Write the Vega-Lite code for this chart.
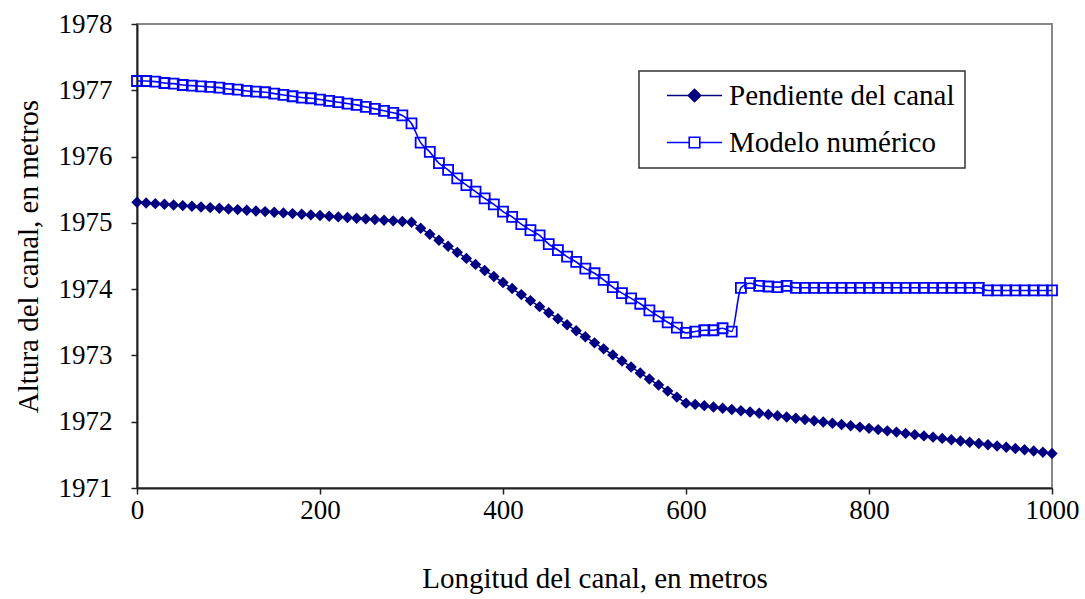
{
  "$schema": "https://vega.github.io/schema/vega-lite/v6.json",
  "width": 915,
  "height": 464,
  "autosize": {"type": "none"},
  "padding": {"left": 137, "top": 24, "right": 33, "bottom": 111},
  "background": "white",
  "config": {
    "font": "Liberation Serif",
    "view": {"stroke": "#888888", "strokeWidth": 2},
    "axis": {
      "grid": false,
      "domainColor": "#222222",
      "domainWidth": 2,
      "tickColor": "#222222",
      "tickWidth": 1.5,
      "tickSize": 6,
      "labelFont": "Liberation Serif",
      "labelFontSize": 27,
      "labelColor": "#000000",
      "titleFont": "Liberation Serif",
      "titleFontSize": 29,
      "titleFontWeight": "normal",
      "titleColor": "#000000"
    }
  },
  "datasets": {
    "pend": [
      {"x": 0, "y": 1975.31}, {"x": 10, "y": 1975.30}, {"x": 20, "y": 1975.29}, {"x": 30, "y": 1975.28}, {"x": 40, "y": 1975.27},
      {"x": 50, "y": 1975.26}, {"x": 60, "y": 1975.25}, {"x": 70, "y": 1975.24}, {"x": 80, "y": 1975.23}, {"x": 90, "y": 1975.22},
      {"x": 100, "y": 1975.21}, {"x": 110, "y": 1975.20}, {"x": 120, "y": 1975.19}, {"x": 130, "y": 1975.18}, {"x": 140, "y": 1975.17},
      {"x": 150, "y": 1975.16}, {"x": 160, "y": 1975.15}, {"x": 170, "y": 1975.14}, {"x": 180, "y": 1975.13}, {"x": 190, "y": 1975.12},
      {"x": 200, "y": 1975.11}, {"x": 210, "y": 1975.10}, {"x": 220, "y": 1975.09}, {"x": 230, "y": 1975.08}, {"x": 240, "y": 1975.07},
      {"x": 250, "y": 1975.06}, {"x": 260, "y": 1975.05}, {"x": 270, "y": 1975.04}, {"x": 280, "y": 1975.03}, {"x": 290, "y": 1975.02},
      {"x": 300, "y": 1975.01}, {"x": 310, "y": 1974.919}, {"x": 320, "y": 1974.828}, {"x": 330, "y": 1974.737}, {"x": 340, "y": 1974.646},
      {"x": 350, "y": 1974.555}, {"x": 360, "y": 1974.464}, {"x": 370, "y": 1974.373}, {"x": 380, "y": 1974.282}, {"x": 390, "y": 1974.191},
      {"x": 400, "y": 1974.100}, {"x": 410, "y": 1974.009}, {"x": 420, "y": 1973.918}, {"x": 430, "y": 1973.827}, {"x": 440, "y": 1973.736},
      {"x": 450, "y": 1973.645}, {"x": 460, "y": 1973.554}, {"x": 470, "y": 1973.463}, {"x": 480, "y": 1973.372}, {"x": 490, "y": 1973.281},
      {"x": 500, "y": 1973.190}, {"x": 510, "y": 1973.099}, {"x": 520, "y": 1973.008}, {"x": 530, "y": 1972.917}, {"x": 540, "y": 1972.826},
      {"x": 550, "y": 1972.735}, {"x": 560, "y": 1972.644}, {"x": 570, "y": 1972.553}, {"x": 580, "y": 1972.462}, {"x": 590, "y": 1972.371},
      {"x": 600, "y": 1972.280}, {"x": 610, "y": 1972.261}, {"x": 620, "y": 1972.242}, {"x": 630, "y": 1972.223}, {"x": 640, "y": 1972.204},
      {"x": 650, "y": 1972.185}, {"x": 660, "y": 1972.166}, {"x": 670, "y": 1972.147}, {"x": 680, "y": 1972.128}, {"x": 690, "y": 1972.109},
      {"x": 700, "y": 1972.090}, {"x": 710, "y": 1972.071}, {"x": 720, "y": 1972.052}, {"x": 730, "y": 1972.033}, {"x": 740, "y": 1972.014},
      {"x": 750, "y": 1971.995}, {"x": 760, "y": 1971.976}, {"x": 770, "y": 1971.957}, {"x": 780, "y": 1971.938}, {"x": 790, "y": 1971.919},
      {"x": 800, "y": 1971.900}, {"x": 810, "y": 1971.881}, {"x": 820, "y": 1971.862}, {"x": 830, "y": 1971.843}, {"x": 840, "y": 1971.824},
      {"x": 850, "y": 1971.805}, {"x": 860, "y": 1971.786}, {"x": 870, "y": 1971.767}, {"x": 880, "y": 1971.748}, {"x": 890, "y": 1971.729},
      {"x": 900, "y": 1971.710}, {"x": 910, "y": 1971.691}, {"x": 920, "y": 1971.672}, {"x": 930, "y": 1971.653}, {"x": 940, "y": 1971.634},
      {"x": 950, "y": 1971.615}, {"x": 960, "y": 1971.596}, {"x": 970, "y": 1971.577}, {"x": 980, "y": 1971.558}, {"x": 990, "y": 1971.539},
      {"x": 1000, "y": 1971.520}
    ],
    "mod": [
      {"x": 0, "y": 1977.14}, {"x": 10, "y": 1977.14}, {"x": 20, "y": 1977.13}, {"x": 30, "y": 1977.11}, {"x": 40, "y": 1977.10},
      {"x": 50, "y": 1977.08}, {"x": 60, "y": 1977.07}, {"x": 70, "y": 1977.06}, {"x": 80, "y": 1977.05}, {"x": 90, "y": 1977.04},
      {"x": 100, "y": 1977.02}, {"x": 110, "y": 1977.01}, {"x": 120, "y": 1976.99}, {"x": 130, "y": 1976.98}, {"x": 140, "y": 1976.97},
      {"x": 150, "y": 1976.95}, {"x": 160, "y": 1976.93}, {"x": 170, "y": 1976.91}, {"x": 180, "y": 1976.89}, {"x": 190, "y": 1976.88},
      {"x": 200, "y": 1976.86}, {"x": 210, "y": 1976.84}, {"x": 220, "y": 1976.82}, {"x": 230, "y": 1976.80}, {"x": 240, "y": 1976.78},
      {"x": 250, "y": 1976.75}, {"x": 260, "y": 1976.72}, {"x": 270, "y": 1976.69}, {"x": 280, "y": 1976.66}, {"x": 290, "y": 1976.62},
      {"x": 300, "y": 1976.50}, {"x": 310, "y": 1976.21}, {"x": 320, "y": 1976.07}, {"x": 330, "y": 1975.90}, {"x": 340, "y": 1975.80},
      {"x": 350, "y": 1975.67}, {"x": 360, "y": 1975.57}, {"x": 370, "y": 1975.47}, {"x": 380, "y": 1975.37}, {"x": 390, "y": 1975.28},
      {"x": 400, "y": 1975.17}, {"x": 410, "y": 1975.09}, {"x": 420, "y": 1974.98}, {"x": 430, "y": 1974.89}, {"x": 440, "y": 1974.81},
      {"x": 450, "y": 1974.68}, {"x": 460, "y": 1974.59}, {"x": 470, "y": 1974.49}, {"x": 480, "y": 1974.41}, {"x": 490, "y": 1974.31},
      {"x": 500, "y": 1974.24}, {"x": 510, "y": 1974.14}, {"x": 520, "y": 1974.03}, {"x": 530, "y": 1973.94}, {"x": 540, "y": 1973.86},
      {"x": 550, "y": 1973.78}, {"x": 560, "y": 1973.68}, {"x": 570, "y": 1973.59}, {"x": 580, "y": 1973.50}, {"x": 590, "y": 1973.42},
      {"x": 600, "y": 1973.34}, {"x": 610, "y": 1973.36}, {"x": 620, "y": 1973.38}, {"x": 630, "y": 1973.38}, {"x": 640, "y": 1973.41},
      {"x": 650, "y": 1973.36}, {"x": 660, "y": 1974.02}, {"x": 670, "y": 1974.09}, {"x": 680, "y": 1974.05}, {"x": 690, "y": 1974.04},
      {"x": 700, "y": 1974.03}, {"x": 710, "y": 1974.05}, {"x": 720, "y": 1974.02}, {"x": 730, "y": 1974.02}, {"x": 740, "y": 1974.02},
      {"x": 750, "y": 1974.02}, {"x": 760, "y": 1974.02}, {"x": 770, "y": 1974.02}, {"x": 780, "y": 1974.02}, {"x": 790, "y": 1974.02},
      {"x": 800, "y": 1974.02}, {"x": 810, "y": 1974.02}, {"x": 820, "y": 1974.02}, {"x": 830, "y": 1974.02}, {"x": 840, "y": 1974.02},
      {"x": 850, "y": 1974.02}, {"x": 860, "y": 1974.02}, {"x": 870, "y": 1974.02}, {"x": 880, "y": 1974.02}, {"x": 890, "y": 1974.02},
      {"x": 900, "y": 1974.02}, {"x": 910, "y": 1974.02}, {"x": 920, "y": 1974.02}, {"x": 930, "y": 1973.98}, {"x": 940, "y": 1973.98},
      {"x": 950, "y": 1973.98}, {"x": 960, "y": 1973.98}, {"x": 970, "y": 1973.98}, {"x": 980, "y": 1973.98}, {"x": 990, "y": 1973.98},
      {"x": 1000, "y": 1973.98}
    ]
  },
  "encoding": {
    "x": {
      "field": "x",
      "type": "quantitative",
      "scale": {"domain": [0, 1000], "nice": false, "zero": false},
      "axis": {
        "title": "Longitud del canal, en metros",
        "values": [0, 200, 400, 600, 800, 1000],
        "format": "d",
        "labelPadding": 3,
        "titlePadding": 41,
        "labelFlush": false
      }
    },
    "y": {
      "field": "y",
      "type": "quantitative",
      "scale": {"domain": [1971, 1978], "nice": false, "zero": false},
      "axis": {
        "title": "Altura del canal, en metros",
        "values": [1971, 1972, 1973, 1974, 1975, 1976, 1977, 1978],
        "format": "d",
        "labelPadding": 19,
        "titlePadding": 15,
        "labelFlush": false
      }
    },
    "color": {
      "scale": {"domain": ["Pendiente del canal", "Modelo numérico"], "range": ["#000080", "#0000ff"]},
      "legend": {
        "title": null,
        "orient": "none",
        "legendX": 502,
        "legendY": 47,
        "padding": 10,
        "strokeColor": "#333333",
        "fillColor": "#ffffff",
        "labelFont": "Liberation Serif",
        "labelFontSize": 29,
        "labelLimit": 500,
        "labelColor": "#000000",
        "symbolSize": 576,
        "symbolOffset": 31,
        "labelOffset": 20,
        "rowPadding": 17,
        "encode": {
          "legend": {"update": {"strokeWidth": {"value": 1.5}}},
          "symbols": {
            "update": {
              "shape": {"signal": "datum.value == 'Pendiente del canal' ? 'M-2.3,0L2.3,0M0,-0.52L0.52,0L0,0.52L-0.52,0Z' : 'M-2.3,0L-0.44,0M0.44,0L2.3,0M-0.5,-0.44L0.5,-0.44M0.44,-0.5L0.44,0.5M0.5,0.44L-0.5,0.44M-0.44,0.5L-0.44,-0.5'"},
              "strokeWidth": {"value": 1.6},
              "size": {"value": 576},
              "opacity": {"value": 1},
              "fillOpacity": {"value": 1},
              "strokeOpacity": {"value": 1}
            }
          }
        }
      }
    }
  },
  "layer": [
    {
      "data": {"name": "pend"},
      "mark": {"type": "line", "strokeWidth": 1.5},
      "encoding": {"color": {"datum": "Pendiente del canal"}}
    },
    {
      "data": {"name": "pend"},
      "mark": {"type": "point", "shape": "diamond", "filled": true, "size": 130, "opacity": 1, "strokeWidth": 1},
      "encoding": {"color": {"datum": "Pendiente del canal"}}
    },
    {
      "data": {"name": "mod"},
      "mark": {"type": "line", "strokeWidth": 1.6, "interpolate": "monotone"},
      "encoding": {"color": {"datum": "Modelo numérico"}}
    },
    {
      "data": {"name": "mod"},
      "mark": {"type": "point", "shape": "square", "filled": false, "size": 100, "opacity": 1, "strokeWidth": 1.8},
      "encoding": {"color": {"datum": "Modelo numérico"}}
    }
  ]
}
